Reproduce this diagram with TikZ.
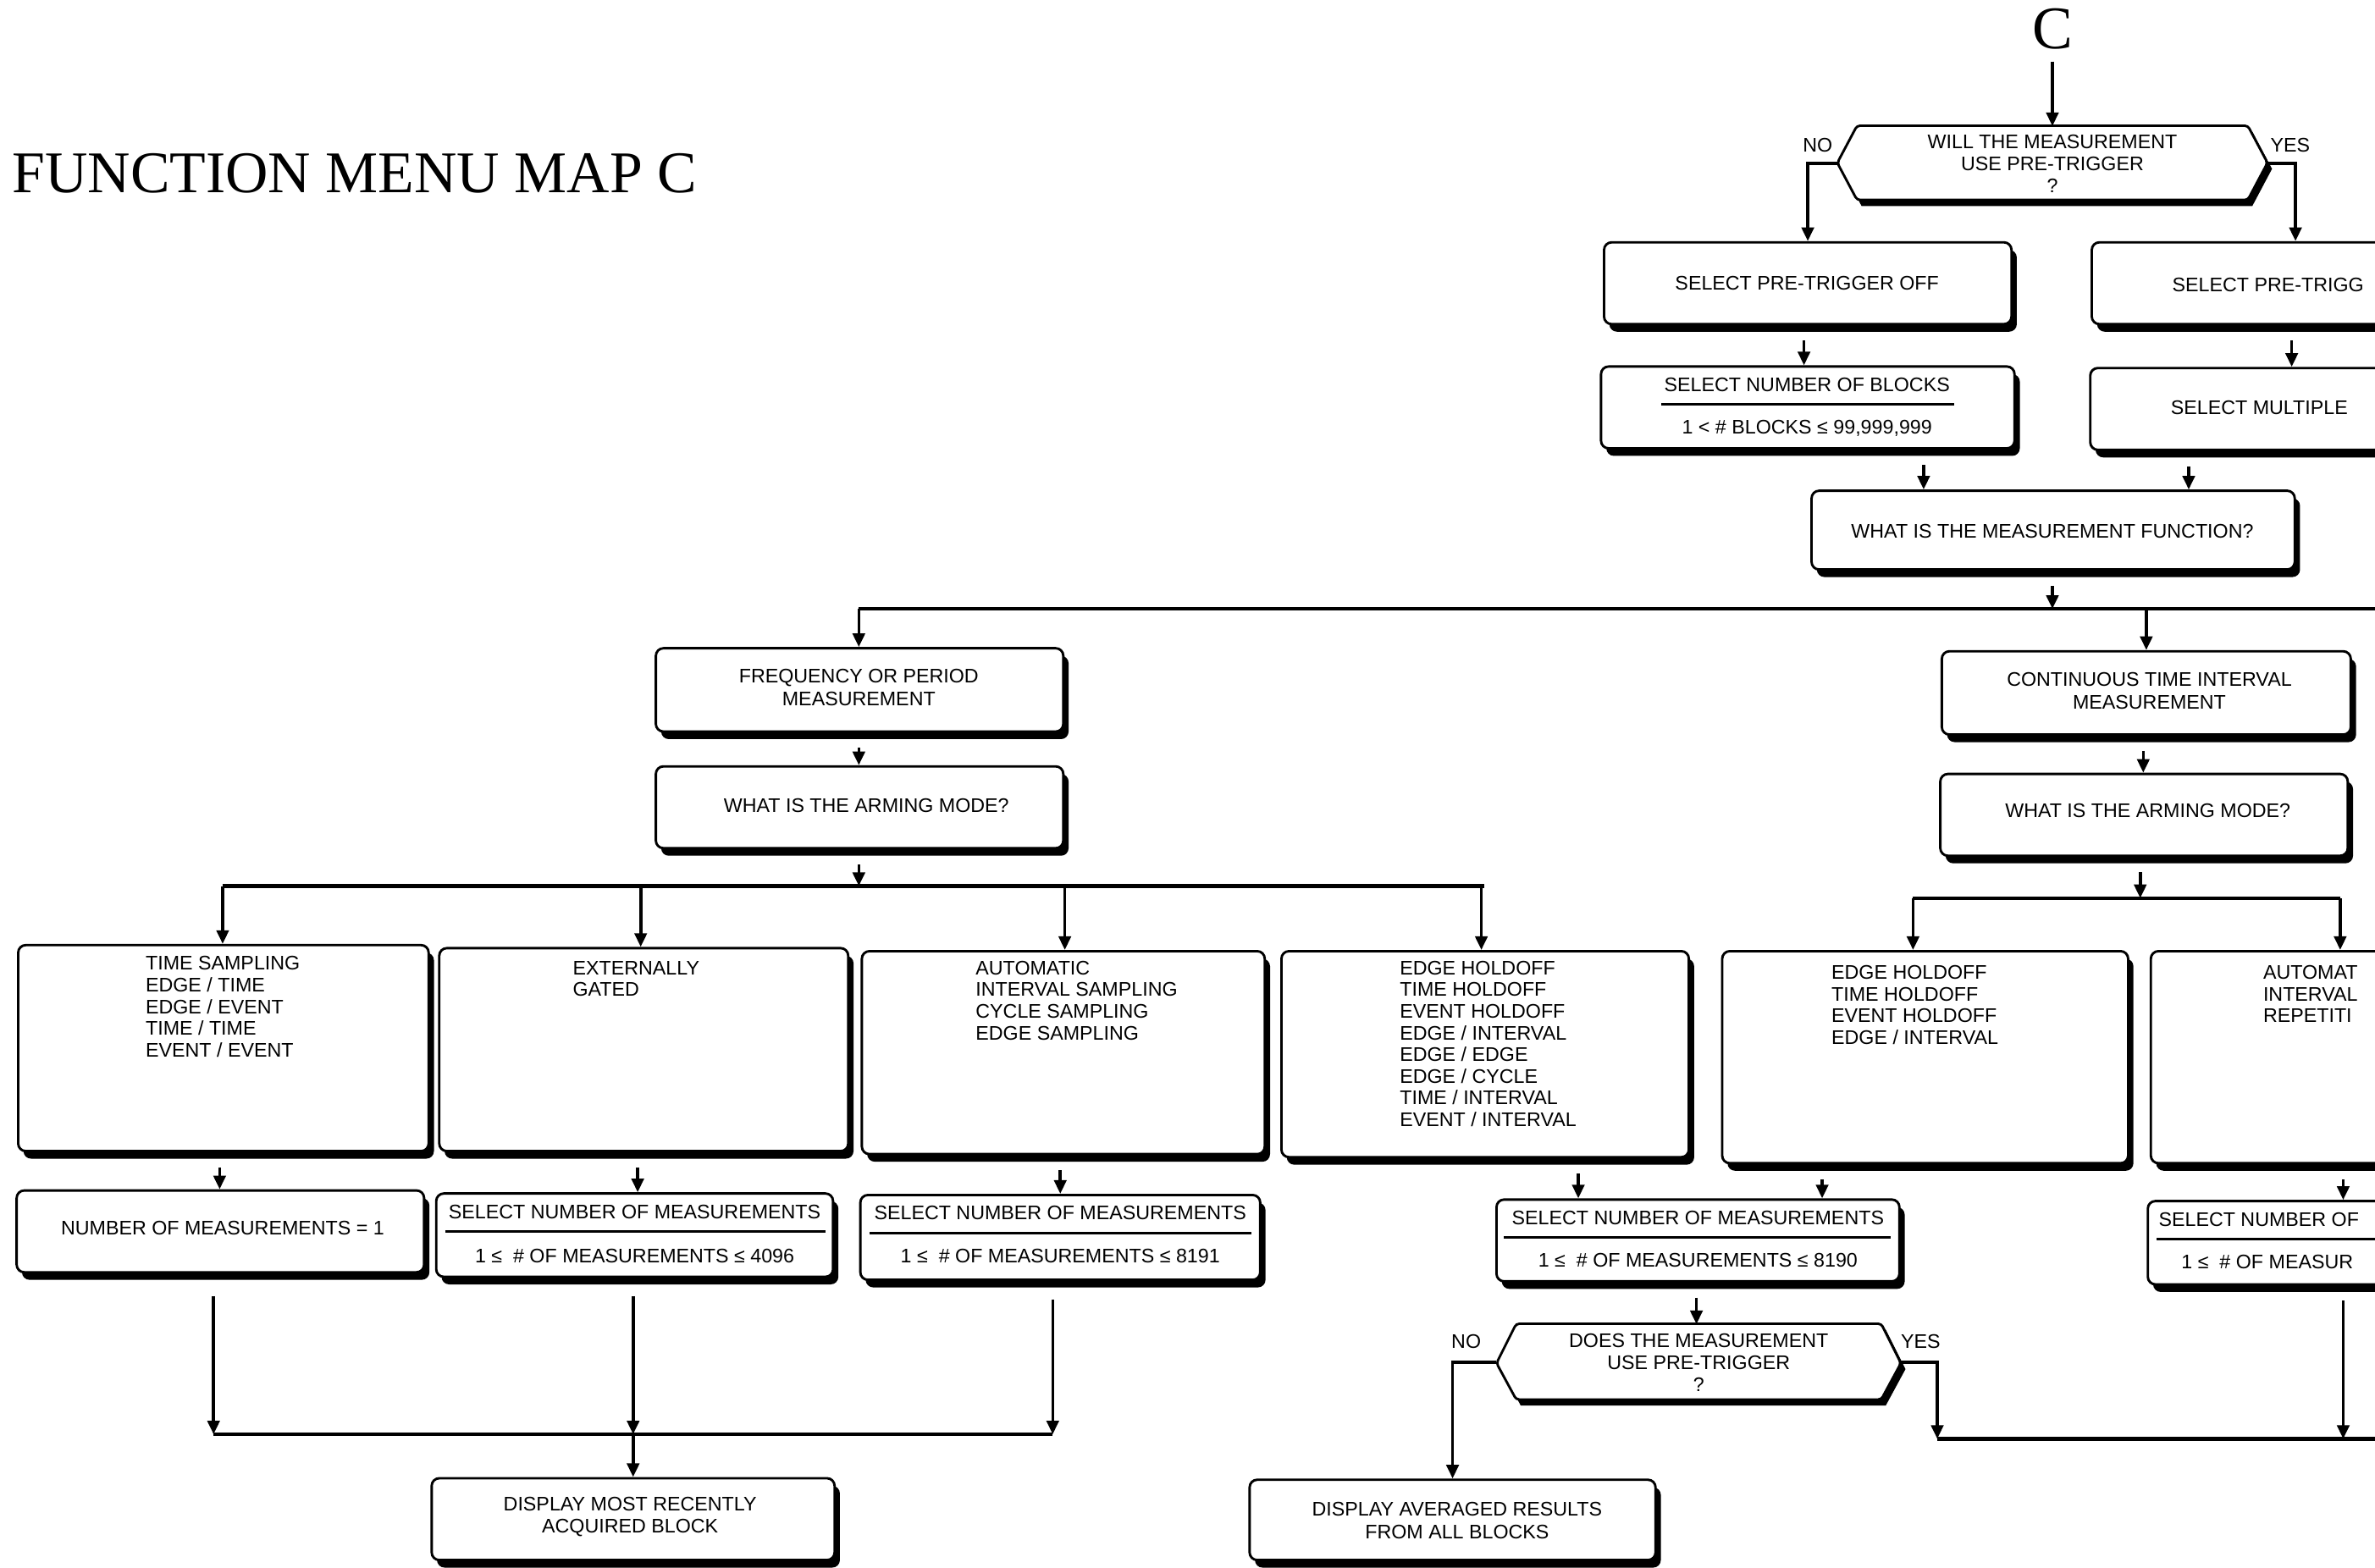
\documentclass[tikz,border=0pt]{standalone}
\usepackage{fontspec}
\setmainfont{Liberation Sans}
\newfontfamily\titlefont{Liberation Serif}
\usetikzlibrary{shadows,arrows.meta}
\tikzset{
  box/.style={draw, line width=1.6pt, rounded corners=5pt, fill=white,
    drop shadow={shadow xshift=3.5pt, shadow yshift=-5pt, fill=black, opacity=1}},
  txt/.style={font=\fontsize{13}{14.3}\selectfont, inner sep=0pt},
  lst/.style={txt, align=left, anchor=north west},
  ctr/.style={font=\fontsize{13}{15}\selectfont, inner sep=0pt, align=center},
  ctrq/.style={font=\fontsize{13}{14.5}\selectfont, inner sep=0pt, align=center},
  lftx/.style={txt, anchor=west},
  arr/.style={line width=2pt, -{Triangle[length=9pt,width=8pt]}},
  down/.style={arr, shorten <=10pt},
  bus/.style={line width=2.6pt},
  hexline/.style={line width=1.6pt, fill=white, rounded corners=2pt},
  rul/.style={line width=1.6pt},
}
\newcommand{\mkbox}[5]{\node[box, minimum width={(#4-#2)*1pt}, minimum height={(#5-#3)*1pt}] (#1) at ({(#2+#4)/2},{(#3+#5)/2}) {};}
\begin{document}
\begin{tikzpicture}[x=1pt,y=-1pt]
\useasboundingbox (0,0) rectangle (1568,1035);
\clip (0,0) rectangle (1568,1035);
\fill[white] (0,0) rectangle (1568,1035);

% titles
\node[font=\titlefont\fontsize{39}{39}\selectfont, anchor=base west, inner sep=0pt] (title) at (8,127) {FUNCTION MENU MAP C};
\node[font=\titlefont\fontsize{40}{40}\selectfont, anchor=base, inner sep=0pt] (cC) at (1355,32) {C};

% decision hexagon A
\fill[black] (1216,111.5) -- (1229,87) -- (1487,87) -- (1500,111.5) -- (1487,136) -- (1229,136) -- cycle;
\draw[hexline] (1213,107.5) -- (1226,83) -- (1484,83) -- (1497,107.5) -- (1484,132) -- (1226,132) -- cycle;
\node[ctrq, minimum width=284pt, minimum height=49pt] (hexA) at (1355,108) {WILL THE MEASUREMENT\\USE PRE-TRIGGER\\?};
\node[txt] (noA) at (1200,96) {NO};
\node[txt] (yesA) at (1512,96) {YES};

% top boxes
\mkbox{boff}{1059}{160}{1328}{214}
\node[txt] (toff) at (1193,187) {SELECT PRE-TRIGGER OFF};
\mkbox{bon}{1381}{160}{1650}{214}
\node[lftx] (ton) at (1434,188) {SELECT PRE-TRIGG};
\mkbox{bblk}{1057}{242}{1330}{296}
\node[txt] (tblk1) at (1193,254) {SELECT NUMBER OF BLOCKS};
\draw[rul] (1097,267) -- (1290,267);
\node[txt] (tblk2) at (1193,283) {1 < \# BLOCKS ≤ 99,999,999};
\mkbox{bmul}{1380}{243}{1650}{297}
\node[lftx] (tmul) at (1433,269) {SELECT MULTIPLE};
\mkbox{bfun}{1196}{324}{1515}{376}
\node[txt] (tfun) at (1355,351) {WHAT IS THE MEASUREMENT FUNCTION?};

% second level
\mkbox{bfreq}{433}{428}{702}{483}
\node[ctr] (tfreq) at (567,454) {FREQUENCY OR PERIOD\\MEASUREMENT};
\mkbox{barm1}{433}{506}{702}{560}
\node[txt] (tarm1) at (572,532) {WHAT IS THE ARMING MODE?};
\mkbox{bcont}{1282}{430}{1552}{485}
\node[ctr] (tcont) at (1419,456) {CONTINUOUS TIME INTERVAL\\MEASUREMENT};
\mkbox{barm2}{1281}{511}{1550}{565}
\node[txt] (tarm2) at (1418,535) {WHAT IS THE ARMING MODE?};

% arming mode boxes
\mkbox{a1}{12}{624}{283}{760}
\node[lst] (ta1) at (96,631.3) {TIME SAMPLING\\EDGE / TIME\\EDGE / EVENT\\TIME / TIME\\EVENT / EVENT};
\mkbox{a2}{290}{626}{560}{760}
\node[lst] (ta2) at (378,634.3) {EXTERNALLY\\GATED};
\mkbox{a3}{569}{628}{835}{762}
\node[lst] (ta3) at (644,634.3) {AUTOMATIC\\INTERVAL SAMPLING\\CYCLE SAMPLING\\EDGE SAMPLING};
\mkbox{a4}{846}{628}{1115}{764}
\node[lst] (ta4) at (924,634.3) {EDGE HOLDOFF\\TIME HOLDOFF\\EVENT HOLDOFF\\EDGE / INTERVAL\\EDGE / EDGE\\EDGE / CYCLE\\TIME / INTERVAL\\EVENT / INTERVAL};
\mkbox{d1}{1137}{628}{1405}{768}
\node[lst] (td1) at (1209,637.3) {EDGE HOLDOFF\\TIME HOLDOFF\\EVENT HOLDOFF\\EDGE / INTERVAL};
\mkbox{d2}{1420}{628}{1688}{768}
\node[lst] (td2) at (1494,637.3) {AUTOMAT\\INTERVAL\\REPETITI};

% measurement number boxes
\mkbox{b1}{11}{786}{280}{840}
\node[txt] (tb1) at (147,811) {NUMBER OF MEASUREMENTS = 1};
\mkbox{b2}{288}{788}{550}{843}
\node[txt] (tb2a) at (419,800) {SELECT NUMBER OF MEASUREMENTS};
\draw[rul] (294,813) -- (545,813);
\node[txt] (tb2b) at (419,829) {1 ≤ \ \# OF MEASUREMENTS ≤ 4096};
\mkbox{b3}{568}{789}{832}{845}
\node[txt] (tb3a) at (700,801) {SELECT NUMBER OF MEASUREMENTS};
\draw[rul] (574,814) -- (826,814);
\node[txt] (tb3b) at (700,829) {1 ≤ \ \# OF MEASUREMENTS ≤ 8191};
\mkbox{e1}{988}{792}{1254}{846}
\node[txt] (te1a) at (1121,804) {SELECT NUMBER OF MEASUREMENTS};
\draw[rul] (993,817) -- (1248,817);
\node[txt] (te1b) at (1121,832) {1 ≤ \ \# OF MEASUREMENTS ≤ 8190};
\mkbox{e2}{1418}{793}{1684}{848}
\node[lftx] (te2a) at (1425,805) {SELECT NUMBER OF};
\draw[rul] (1424,818) -- (1600,818);
\node[lftx] (te2b) at (1440,833) {1 ≤ \ \# OF MEASUR};

% decision hexagon B
\fill[black] (991,904) -- (1004,878) -- (1245,878) -- (1258,904) -- (1245,928) -- (1004,928) -- cycle;
\draw[hexline] (988,900) -- (1001,874) -- (1242,874) -- (1255,900) -- (1242,924) -- (1001,924) -- cycle;
\node[ctrq, minimum width=267pt, minimum height=50pt] (hexB) at (1121.5,899.5) {DOES THE MEASUREMENT\\USE PRE-TRIGGER\\?};
\node[txt] (noB) at (968,886) {NO};
\node[txt] (yesB) at (1268,886) {YES};

% result boxes
\mkbox{c1}{285}{976}{551}{1030}
\node[ctr] (tc1) at (416,1001.5) {DISPLAY MOST RECENTLY\\ACQUIRED BLOCK};
\mkbox{f1}{825}{977}{1093}{1030}
\node[ctr] (tf1) at (962,1004) {DISPLAY AVERAGED RESULTS\\FROM ALL BLOCKS};

% ---- connectors ----
\draw[arr, shorten <=8pt] (cC.south) -- (hexA.north);
\draw[arr] (hexA.west) -| (boff.north);
\draw[arr] (hexA.east) -| (bon.north);
\draw[down] (boff.south -| 1191,0) -- (bblk.north -| 1191,0);
\draw[down] (bon.south -| 1513,0) -- (bmul.north -| 1513,0);
\draw[down] (bblk.south -| 1270,0) -- (bfun.north -| 1270,0);
\draw[down] (bmul.south -| 1445,0) -- (bfun.north -| 1445,0);

\coordinate (bus1L) at (567,402);
\coordinate (bus1R) at (1568,402);
\coordinate (j1) at (1355,402);
\coordinate (j1b) at (1417,402);
\draw[down] (bfun.south -| j1) -- (j1);
\draw[bus] (bus1L) -- (bus1R);
\draw[arr] (bus1L) -- (bfreq.north -| bus1L);
\draw[arr] (j1b) -- (bcont.north -| j1b);
\draw[down] (bfreq.south -| 567,0) -- (barm1.north -| 567,0);
\draw[down] (bcont.south -| 1415,0) -- (barm2.north -| 1415,0);

\coordinate (bus2L) at (147,585);
\coordinate (bus2R) at (980,585);
\coordinate (j2) at (567,585);
\coordinate (j2a) at (423,585);
\coordinate (j2b) at (703,585);
\coordinate (j2c) at (978,585);
\draw[down] (barm1.south -| j2) -- (j2);
\draw[bus] (bus2L) -- (bus2R);
\draw[arr] (bus2L) -- (a1.north -| bus2L);
\draw[arr] (j2a) -- (a2.north -| j2a);
\draw[arr] (j2b) -- (a3.north -| j2b);
\draw[arr] (j2c) -- (a4.north -| j2c);

\coordinate (bus3L) at (1263,593);
\coordinate (bus3R) at (1545,593);
\coordinate (j3) at (1413,593);
\draw[down] (barm2.south -| j3) -- (j3);
\draw[bus] (bus3L) -- (bus3R);
\draw[arr] (bus3L) -- (d1.north -| bus3L);
\draw[arr] (bus3R) -- (d2.north -| bus3R);

\draw[down] (a1.south -| 145,0) -- (b1.north -| 145,0);
\draw[down] (a2.south -| 421,0) -- (b2.north -| 421,0);
\draw[down] (a3.south -| 700,0) -- (b3.north -| 700,0);
\draw[down] (a4.south -| 1042,0) -- (e1.north -| 1042,0);
\draw[down] (d1.south -| 1203,0) -- (e1.north -| 1203,0);
\draw[down] (d2.south -| 1547,0) -- (e2.north -| 1547,0);

\coordinate (bus4L) at (141,947);
\coordinate (bus4M) at (418,947);
\coordinate (bus4R) at (695,947);
\draw[arr, shorten <=15pt] (b1.south -| bus4L) -- (bus4L);
\draw[arr, shorten <=12pt] (b2.south -| bus4M) -- (bus4M);
\draw[arr, shorten <=12pt] (b3.south -| bus4R) -- (bus4R);
\draw[bus] (bus4L) -- (bus4R);
\draw[arr] (bus4M) -- (c1.north -| bus4M);

\draw[down] (e1.south -| 1120,0) -- (hexB.north -| 1120,0);
\draw[arr] (hexB.west) -| (f1.north);
\coordinate (bus5L) at (1279,950);
\coordinate (bus5R) at (1568,950);
\coordinate (j5) at (1547,950);
\draw[arr] (hexB.east) -| (bus5L);
\draw[bus] (bus5L) -- (bus5R);
\draw[down] (e2.south -| j5) -- (j5);
\end{tikzpicture}
\end{document}
